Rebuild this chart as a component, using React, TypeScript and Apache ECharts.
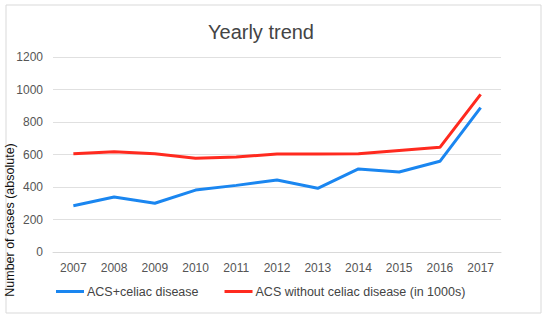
import React, { useEffect, useRef } from "react";
import * as echarts from "echarts";

const years = ["2007", "2008", "2009", "2010", "2011", "2012", "2013", "2014", "2015", "2016", "2017"];
const acsCeliac = [285, 338, 300, 381, 410, 443, 392, 511, 492, 558, 888];
const acsWithout = [605, 617, 605, 577, 585, 603, 603, 605, 625, 644, 970];
const seriesNames = ["ACS+celiac disease", "ACS without celiac disease (in 1000s)"];

export default function App() {
  const ref = useRef<HTMLDivElement>(null);
  useEffect(() => {
    if (!ref.current) return;
    const chart = echarts.init(ref.current, undefined, { renderer: "svg" });
    chart.setOption({
      animation: false,
      backgroundColor: "#ffffff",
      title: {
        text: "Yearly trend",
        left: 203,
        top: 17,
        textStyle: { fontFamily: "Arial, Liberation Sans, sans-serif", fontSize: 20, fontWeight: "normal", color: "#444444" },
      },
      legend: {
        bottom: 18,
        left: 51,
        itemWidth: 28,
        itemHeight: 3,
        itemGap: 26,
        icon: "rect",
        textStyle: { fontFamily: "Arial, Liberation Sans, sans-serif", fontSize: 12.5, color: "#444444", padding: [0, 0, 0, -2] },
        data: seriesNames,
      },
      grid: { left: 53, right: 49, top: 57, bottom: 69 },
      xAxis: {
        type: "category",
        data: years,
        boundaryGap: true,
        axisTick: { show: false },
        axisLine: { lineStyle: { color: "#d9d9d9" } },
        axisLabel: { color: "#555555", fontSize: 12, margin: 10, fontFamily: "Arial, Liberation Sans, sans-serif" },
      },
      yAxis: {
        type: "value",
        min: 0,
        max: 1200,
        interval: 200,
        axisLine: { show: false },
        axisTick: { show: false },
        splitLine: { lineStyle: { color: "#e0e0e0" } },
        axisLabel: {
          color: "#555555",
          fontSize: 12,
          margin: 10,
          fontFamily: "Arial, Liberation Sans, sans-serif",
          formatter: (v: number) => String(v),
        },
      },
      graphic: [
        {
          type: "rect",
          shape: { x: 6, y: 5, width: 535, height: 308 },
          style: { fill: "none", stroke: "#d9d9d9", lineWidth: 1 },
          silent: true,
        },
        {
          type: "text",
          x: 10,
          y: 220,
          rotation: Math.PI / 2,
          style: {
            text: "Number of cases (absolute)",
            fontSize: 12.5,
            fontFamily: "Arial, Liberation Sans, sans-serif",
            fill: "#111111",
            textAlign: "center",
            textVerticalAlign: "middle",
          },
        },
      ],
      series: [
        {
          name: seriesNames[0],
          type: "line",
          data: acsCeliac,
          showSymbol: false,
          symbol: "none",
          lineStyle: { width: 3, color: "#1a86f0" },
          itemStyle: { color: "#1a86f0" },
        },
        {
          name: seriesNames[1],
          type: "line",
          data: acsWithout,
          showSymbol: false,
          symbol: "none",
          lineStyle: { width: 3, color: "#ff2a1f" },
          itemStyle: { color: "#ff2a1f" },
        },
      ],
    });
    return () => chart.dispose();
  }, []);
  return <div ref={ref} style={{ width: 550, height: 321, position: "absolute", left: 0, top: 0 }} />;
}
